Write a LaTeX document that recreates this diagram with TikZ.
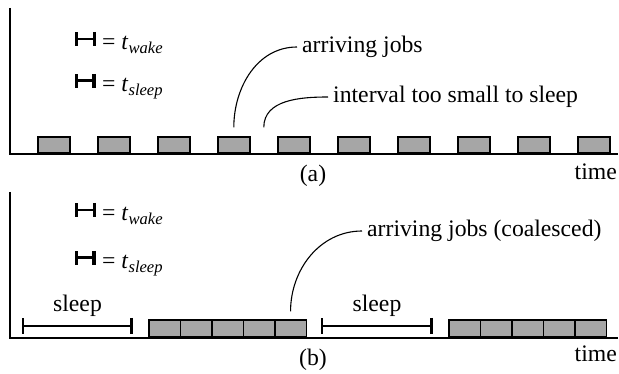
\documentclass[tikz,border=0pt]{standalone}
\usepackage{fontspec}
\setmainfont{Liberation Serif}
\usepackage{tikz}
\usetikzlibrary{arrows.meta}
\usetikzlibrary{positioning}
\usetikzlibrary{calc}
\definecolor{jobgray}{gray}{0.65}
\tikzset{
  job/.style = {draw=black, fill=jobgray, line width=1.6pt, inner sep=0pt,
    minimum width=32pt, minimum height=16pt, anchor=south west},% one job
  axis/.style = {line width=2.2pt},
  lbl/.style = {inner xsep=5pt, inner ysep=0pt, anchor=west},% label of a leader
  lead/.style = {line width=1.1pt},
  legtext/.style = {anchor=base west, inner sep=0pt},
  span/.style = {line width=2.4pt,
    {Bar[width=16pt,line width=2.4pt]}-{Bar[width=16pt,line width=3.4pt]}},% sleep interval
  wk/.style = {line width=2.4pt,
    {Bar[width=14pt,line width=3pt]}-{Bar[width=14pt,line width=3pt]}},
  sl/.style = {line width=3pt,
    {Bar[width=14pt,line width=3.2pt]}-{Bar[width=14pt,line width=3.6pt]}}
}

\begin{document}
\begin{tikzpicture}[x=1pt,y=-1pt,font=\fontsize{23.7}{28}\selectfont]
\useasboundingbox (0,0) rectangle (619,374);

% (a) jobs as they arrive
\draw[axis] (10,8) -- (10,154) -- (618,154);
\foreach \i in {0,...,9}
  \node[job] (a\i) at ({37+60*\i},154) {};

\draw[wk] (75,39) -- (96,39);
\node[legtext] (wa) at (102,50) {= \textit{t}\textsubscript{\textit{wake}}};
\draw[sl] (75,81) -- (96,81);
\node[legtext] (sa) at (102,92) {= \textit{t}\textsubscript{\textit{sleep}}};

\node[lbl] (jobs) at (297,47) {arriving jobs};
\node[lbl] (gap) at (328,97) {interval too small to sleep};
\draw[lead] ([yshift=9pt]a3.north) to[out=90,in=180] (jobs.west);
\draw[lead] ([yshift=9pt]$(a3.north east)!0.5!(a4.north west)$) to[out=90,in=180] (gap.west);

\node[anchor=base] (capa) at (313,182) {(a)};
\node[anchor=base east, inner sep=0pt] (ta) at (617,180) {time};

% (b) jobs coalesced
\draw[axis] (10,192) -- (10,338) -- (618,338);
\foreach \i in {0,...,4}{
  \node[job, minimum width=31.5pt, minimum height=17pt] (b\i) at ({148+31.5*\i},338) {};
  \node[job, minimum width=31.5pt, minimum height=17pt] (c\i) at ({448+31.5*\i},338) {};
}

\draw[wk] (75,210) -- (96,210);
\node[legtext] (wb) at (102,221) {= \textit{t}\textsubscript{\textit{wake}}};
\draw[sl] (75,258) -- (96,258);
\node[legtext] (sb) at (102,269) {= \textit{t}\textsubscript{\textit{sleep}}};

\coordinate (s1) at (22,326);
\coordinate (e1) at (133,326);
\coordinate (s2) at (321,326);
\coordinate (e2) at (433,326);
\draw[span] (s1) -- (e1);
\draw[span] (s2) -- (e2);
\node[anchor=base] (z1) at ($(s1)!0.5!(e1)+(0,-14)$) {sleep};
\node[anchor=base] (z2) at ($(s2)!0.5!(e2)+(0,-14)$) {sleep};

\node[lbl] (coal) at (362,231) {arriving jobs (coalesced)};
\draw[lead] ([yshift=8pt]b4.north) to[out=90,in=180] (coal.west);

\node[anchor=base] (capb) at (313,366) {(b)};
\node[anchor=base east, inner sep=0pt] (tb) at (617,362) {time};
\end{tikzpicture}
\end{document}
